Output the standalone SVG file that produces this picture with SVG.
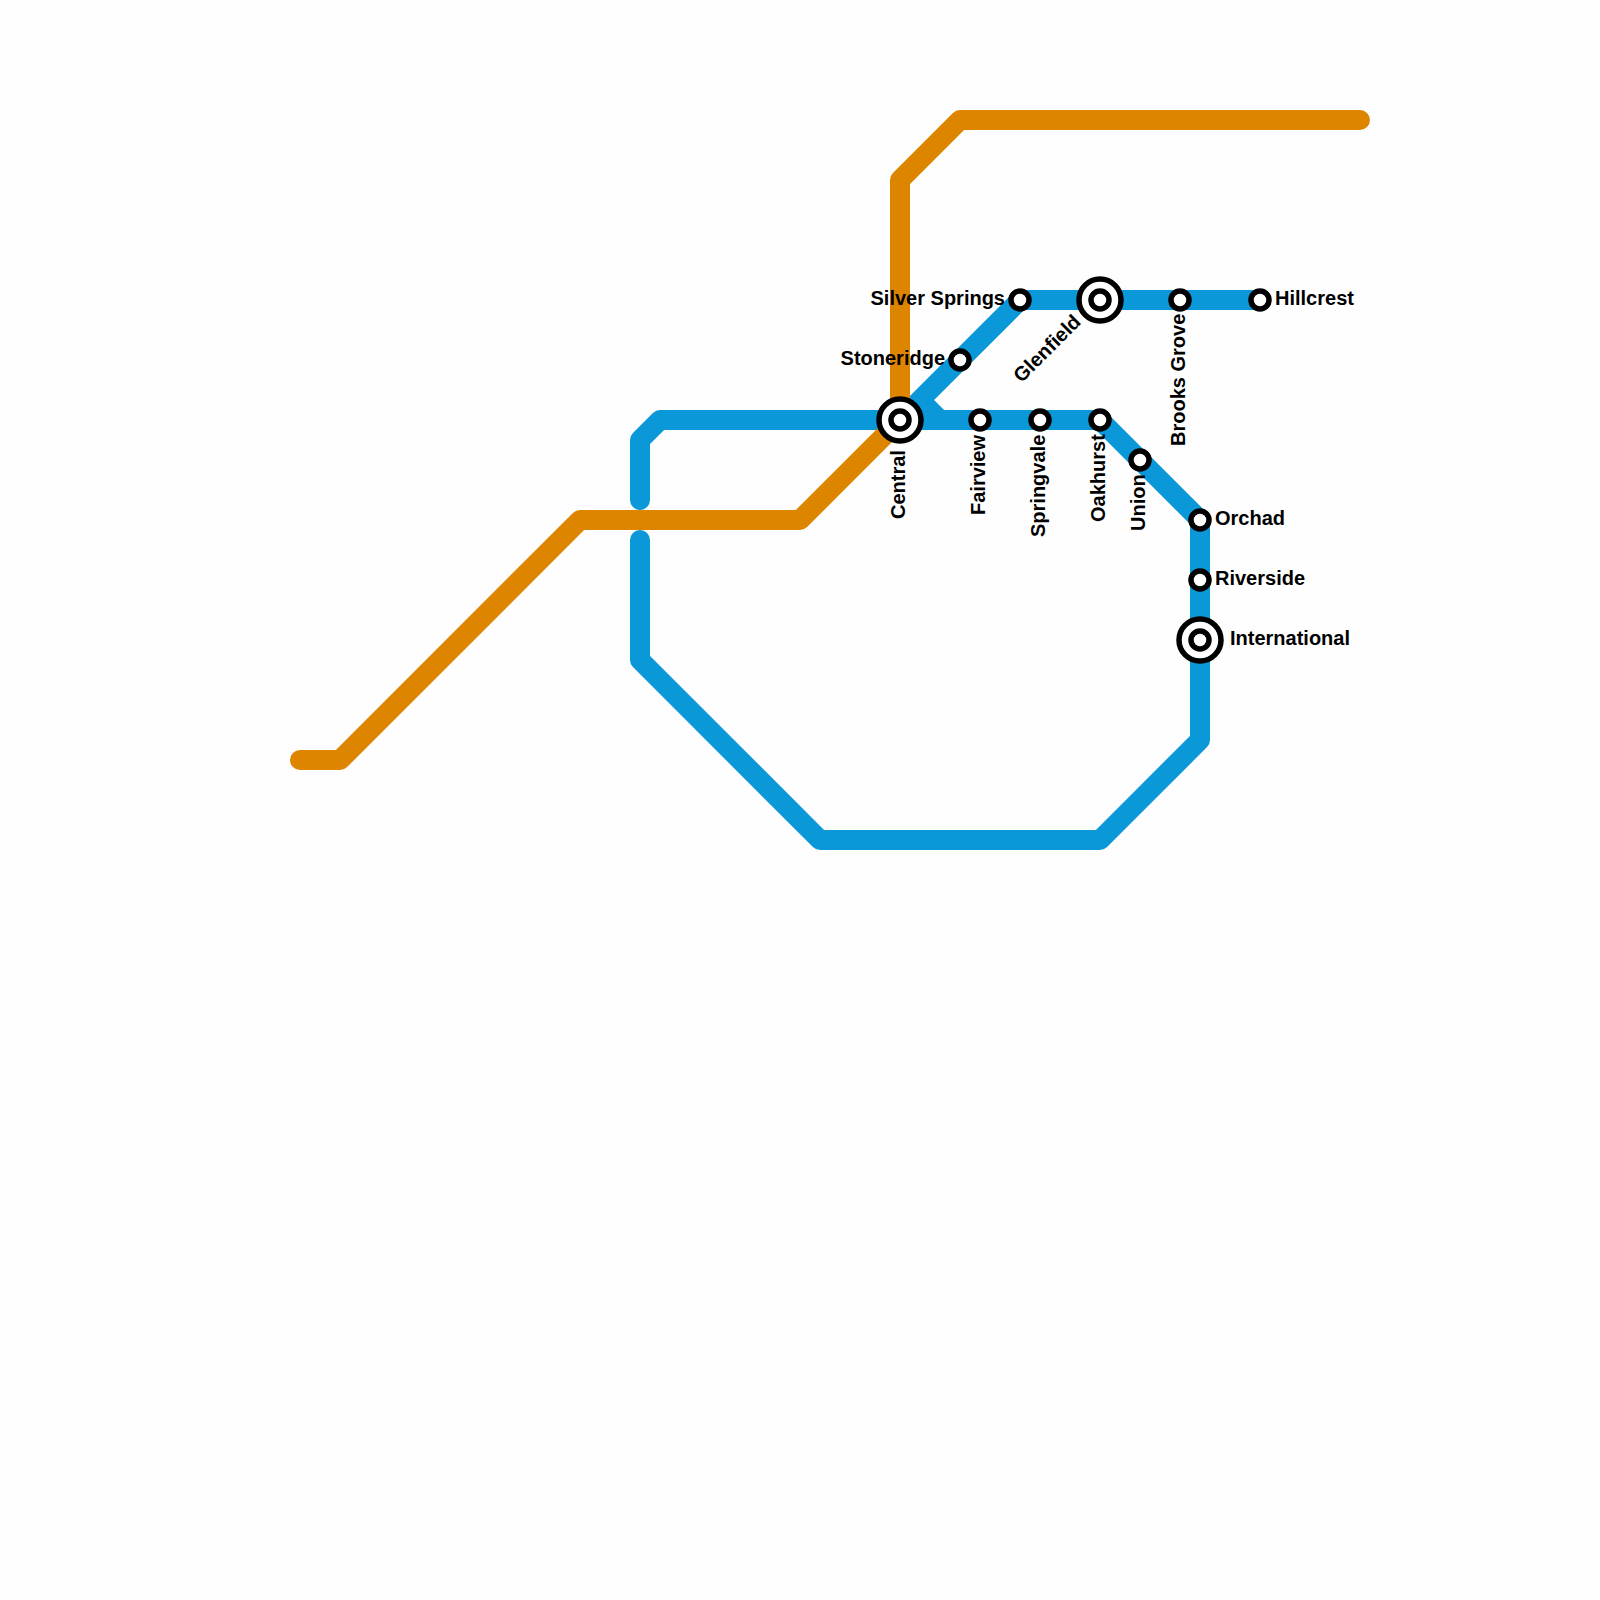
<svg xmlns="http://www.w3.org/2000/svg" width="1600" height="1600" viewBox="0 0 1600 1600">
<style>
.l{fill:none;stroke-width:20;stroke-linecap:round;stroke-linejoin:round}
.b{stroke:#0a98d9}
.o{stroke:#de8500}
.s{fill:#fff;stroke:#000;stroke-width:5.5}
text{font-family:"Liberation Sans",Arial,sans-serif;font-weight:700;font-size:20px;fill:#000}
.e{text-anchor:end}
</style>
<rect width="1600" height="1600" fill="#fefefe"/>
<g id="connectors">
<path class="l b" d="M640 500V440L660 420H1100L1200 520V740L1100 840H820L640 660V540"/>
<path class="l b" d="M900 420L1020 300H1260"/>
<path class="l b" style="stroke-linecap:butt" d="M918 398L940 420"/>
<path class="l o" d="M300 760H340L580 520H800L900 420V180L960 120H1360"/>
</g>
<g id="central"><circle class="s" cx="900" cy="420" r="21"/><circle class="s" cx="900" cy="420" r="9"/><text transform="translate(905 519) rotate(-90)">Central</text></g>
<g id="fairview"><circle class="s" cx="980" cy="420" r="9"/><text transform="translate(985 515) rotate(-90)">Fairview</text></g>
<g id="springvale"><circle class="s" cx="1040" cy="420" r="9"/><text transform="translate(1045 537) rotate(-90)">Springvale</text></g>
<g id="oakhurst"><circle class="s" cx="1100" cy="420" r="9"/><text transform="translate(1105 522) rotate(-90)">Oakhurst</text></g>
<g id="union"><circle class="s" cx="1140" cy="460" r="9"/><text transform="translate(1145 531) rotate(-90)">Union</text></g>
<g id="orchad"><circle class="s" cx="1200" cy="520" r="9"/><text x="1215" y="525">Orchad</text></g>
<g id="riverside"><circle class="s" cx="1200" cy="580" r="9"/><text x="1215" y="585">Riverside</text></g>
<g id="international"><circle class="s" cx="1200" cy="640" r="21"/><circle class="s" cx="1200" cy="640" r="9"/><text x="1230" y="645">International</text></g>
<g id="stoneridge"><circle class="s" cx="960" cy="360" r="9"/><text class="e" x="945" y="365">Stoneridge</text></g>
<g id="silver-springs"><circle class="s" cx="1020" cy="300" r="9"/><text class="e" x="1005" y="305">Silver Springs</text></g>
<g id="glenfield"><circle class="s" cx="1100" cy="300" r="21"/><circle class="s" cx="1100" cy="300" r="9"/><text class="e" transform="translate(1082 323) rotate(-45)">Glenfield</text></g>
<g id="brooks-grove"><circle class="s" cx="1180" cy="300" r="9"/><text transform="translate(1185 446) rotate(-90)">Brooks Grove</text></g>
<g id="hillcrest"><circle class="s" cx="1260" cy="300" r="9"/><text x="1275" y="305">Hillcrest</text></g>
</svg>
